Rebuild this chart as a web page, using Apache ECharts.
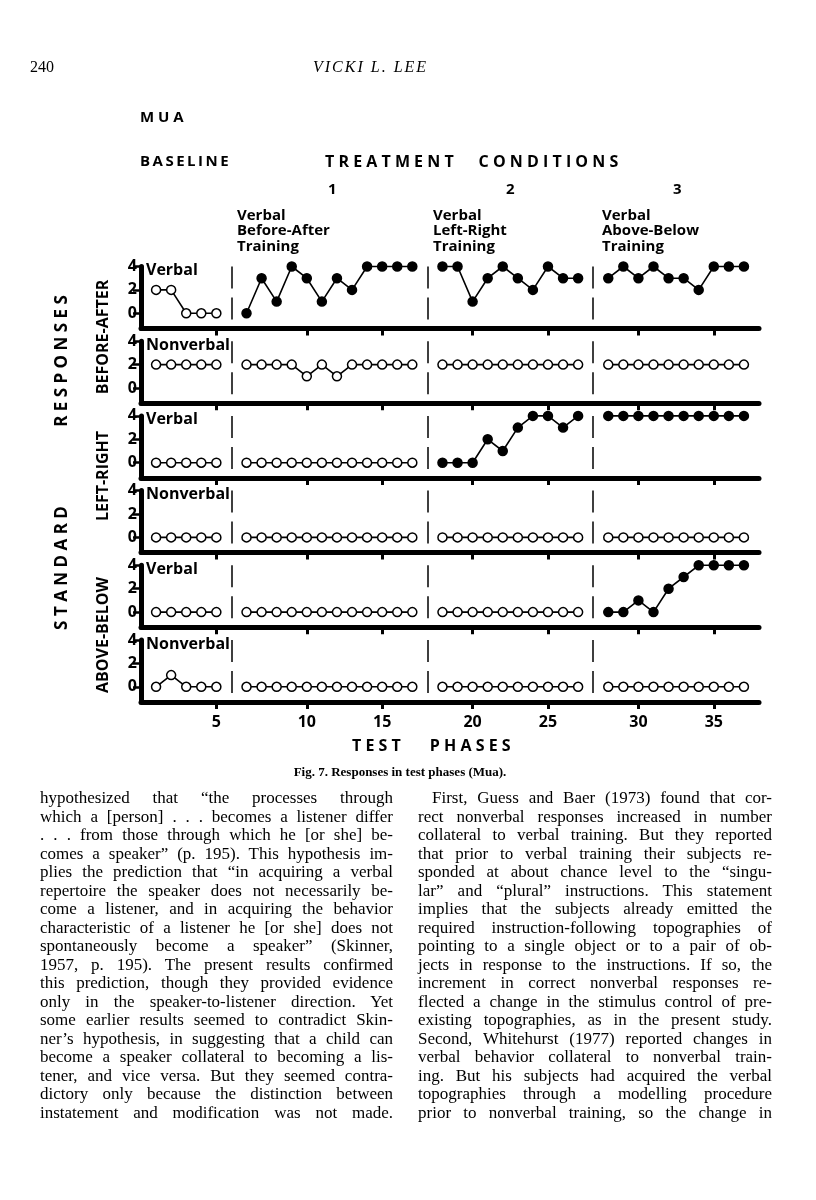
<!DOCTYPE html>
<html>
<head>
<meta charset="utf-8">
<script src="https://cdn.jsdelivr.net/npm/echarts@6/dist/echarts.min.js"></script>
<style>
  body { margin: 0; background: #fff; }
  #page { position: relative; width: 816px; height: 1200px; overflow: hidden; }
  #chart { position: absolute; left: 0; top: 0; width: 816px; height: 790px; }
  .hdr { position: absolute; top: 58px; font-family: "Liberation Serif", serif; font-size: 16px; color: #000; }
  .cap { position: absolute; top: 764px; left: 0; width: 800px; text-align: center;
         font-family: "Liberation Serif", serif; font-size: 13px; font-weight: bold; }
  .col { position: absolute; top: 789px; width: 353px; font-family: "Liberation Serif", serif;
         font-size: 17px; line-height: 18.5px; color: #000; }
  .col div { text-align: justify; text-align-last: justify; white-space: nowrap; }
</style>
</head>
<body>
<div id="page">
  <div id="chart"></div>
  <div class="hdr" style="left:30px">240</div>
  <div class="hdr" style="left:313px;font-style:italic;letter-spacing:2px">VICKI L. LEE</div>
  <div class="cap">Fig. 7. Responses in test phases (Mua).</div>
  <div class="col" style="left:40px">
    <div>hypothesized that “the processes through</div>
    <div>which a [person] . . . becomes a listener differ</div>
    <div>. . . from those through which he [or she] be-</div>
    <div>comes a speaker” (p. 195). This hypothesis im-</div>
    <div>plies the prediction that “in acquiring a verbal</div>
    <div>repertoire the speaker does not necessarily be-</div>
    <div>come a listener, and in acquiring the behavior</div>
    <div>characteristic of a listener he [or she] does not</div>
    <div>spontaneously become a speaker” (Skinner,</div>
    <div>1957, p. 195). The present results confirmed</div>
    <div>this prediction, though they provided evidence</div>
    <div>only in the speaker-to-listener direction. Yet</div>
    <div>some earlier results seemed to contradict Skin-</div>
    <div>ner’s hypothesis, in suggesting that a child can</div>
    <div>become a speaker collateral to becoming a lis-</div>
    <div>tener, and vice versa. But they seemed contra-</div>
    <div>dictory only because the distinction between</div>
    <div>instatement and modification was not made.</div>
  </div>
  <div class="col" style="left:418px;width:354px">
    <div style="padding-left:14px">First, Guess and Baer (1973) found that cor-</div>
    <div>rect nonverbal responses increased in number</div>
    <div>collateral to verbal training. But they reported</div>
    <div>that prior to verbal training their subjects re-</div>
    <div>sponded at about chance level to the “singu-</div>
    <div>lar” and “plural” instructions. This statement</div>
    <div>implies that the subjects already emitted the</div>
    <div>required instruction-following topographies of</div>
    <div>pointing to a single object or to a pair of ob-</div>
    <div>jects in response to the instructions. If so, the</div>
    <div>increment in correct nonverbal responses re-</div>
    <div>flected a change in the stimulus control of pre-</div>
    <div>existing topographies, as in the present study.</div>
    <div>Second, Whitehurst (1977) reported changes in</div>
    <div>verbal behavior collateral to nonverbal train-</div>
    <div>ing. But his subjects had acquired the verbal</div>
    <div>topographies through a modelling procedure</div>
    <div>prior to nonverbal training, so the change in</div>
  </div>
</div>
<script>
// sessions where each phase starts: baseline, treatment 1, 2, 3
const phaseStarts = [1, 6, 18, 28];
const tickSessions = [5, 10, 15, 20, 25, 30, 35];
const yTicks = [0, 2, 4];

// values per phase (baseline, T1, T2, T3)
const verbalBA = [
  [2, 2, 0, 0, 0],
  [0, 3, 1, 4, 3, 1, 3, 2, 4, 4, 4, 4],
  [4, 4, 1, 3, 4, 3, 2, 4, 3, 3],
  [3, 4, 3, 4, 3, 3, 2, 4, 4, 4]
];
const nonverbalBA = [
  [2, 2, 2, 2, 2],
  [2, 2, 2, 2, 1, 2, 1, 2, 2, 2, 2, 2],
  [2, 2, 2, 2, 2, 2, 2, 2, 2, 2],
  [2, 2, 2, 2, 2, 2, 2, 2, 2, 2]
];
const verbalLR = [
  [0, 0, 0, 0, 0],
  [0, 0, 0, 0, 0, 0, 0, 0, 0, 0, 0, 0],
  [0, 0, 0, 2, 1, 3, 4, 4, 3, 4],
  [4, 4, 4, 4, 4, 4, 4, 4, 4, 4]
];
const nonverbalLR = [
  [0, 0, 0, 0, 0],
  [0, 0, 0, 0, 0, 0, 0, 0, 0, 0, 0, 0],
  [0, 0, 0, 0, 0, 0, 0, 0, 0, 0],
  [0, 0, 0, 0, 0, 0, 0, 0, 0, 0]
];
const verbalAB = [
  [0, 0, 0, 0, 0],
  [0, 0, 0, 0, 0, 0, 0, 0, 0, 0, 0, 0],
  [0, 0, 0, 0, 0, 0, 0, 0, 0, 0],
  [0, 0, 1, 0, 2, 3, 4, 4, 4, 4]
];
const nonverbalAB = [
  [0, 1, 0, 0, 0],
  [0, 0, 0, 0, 0, 0, 0, 0, 0, 0, 0, 0],
  [0, 0, 0, 0, 0, 0, 0, 0, 0, 0],
  [0, 0, 0, 0, 0, 0, 0, 0, 0, 0]
];

const panelNames = ['Verbal', 'Nonverbal', 'Verbal', 'Nonverbal', 'Verbal', 'Nonverbal'];
const panelData = [verbalBA, nonverbalBA, verbalLR, nonverbalLR, verbalAB, nonverbalAB];
// filled circles = after training on that dimension
const panelFilled = [
  [false, true, true, true],
  [false, false, false, false],
  [false, false, true, true],
  [false, false, false, false],
  [false, false, false, true],
  [false, false, false, false]
];

// each phase change line takes one slot on the x axis
function phaseOf(session) {
  let k = 0;
  phaseStarts.forEach(function (s, i) { if (session >= s) k = i; });
  return k;
}
function slotOf(session) { return session + phaseOf(session); }

const tickSlots = tickSessions.map(slotOf);
const phaseLineSlots = phaseStarts.slice(1).map(function (s, k) { return s + k; });

const chart = echarts.init(document.getElementById('chart'), null, { renderer: 'canvas' });

const FONT = '"Open Sans", "DejaVu Sans", sans-serif';
const top0 = 266.5, pitch = 74.7, panelH = 62;
const yMin = -1.3;

let grids = [], xAxes = [], yAxes = [], series = [], graphics = [];

panelData.forEach(function (phases, i) {
  const top = top0 + i * pitch;
  grids.push({ left: 141, width: 618, top: top, height: panelH });
  xAxes.push({
    type: 'value', gridIndex: i, min: 0, max: 41,
    axisLine: { onZero: false, lineStyle: { color: '#000', width: 5 } },
    axisTick: { customValues: tickSlots, length: 7, lineStyle: { color: '#000', width: 3 } },
    axisLabel: {
      show: i === panelData.length - 1,
      customValues: tickSlots,
      formatter: function (v) { return tickSessions[tickSlots.indexOf(v)]; },
      color: '#000', fontSize: 16, fontWeight: 'bold', fontFamily: FONT, margin: 12
    },
    splitLine: { show: false }
  });
  yAxes.push({
    type: 'value', gridIndex: i, min: yMin, max: 4,
    axisLine: { show: true, onZero: false, lineStyle: { color: '#000', width: 5 } },
    axisTick: { customValues: yTicks, length: 8, lineStyle: { color: '#000', width: 2.5 } },
    axisLabel: {
      customValues: yTicks, color: '#000', fontSize: 16, fontWeight: 'bold',
      fontFamily: FONT, margin: 4
    },
    splitLine: { show: false }
  });

  phases.forEach(function (vals, k) {
    const filled = panelFilled[i][k];
    const s = {
      type: 'line', xAxisIndex: i, yAxisIndex: i, clip: false, silent: true,
      symbol: 'circle', symbolSize: 9,
      itemStyle: { color: filled ? '#000' : '#fff', borderColor: '#000', borderWidth: 1.5 },
      lineStyle: { color: '#000', width: 1.6 },
      data: vals.map(function (v, j) { return [slotOf(phaseStarts[k] + j), v]; })
    };
    if (k === 0) {
      s.markLine = {
        symbol: 'none', silent: true, label: { show: false },
        lineStyle: { color: '#000', width: 1.5, type: [22, 9] },
        data: phaseLineSlots.map(function (x) {
          return [{ coord: [x, 4] }, { coord: [x, yMin] }];
        })
      };
    }
    series.push(s);
  });

  graphics.push({
    type: 'text', x: 146, y: top + 4,
    style: { text: panelNames[i], fontSize: 16, fontWeight: 'bold', fontFamily: FONT,
             fill: '#000', align: 'left', verticalAlign: 'middle' }
  });
});

function label(text, x, y, size) {
  return {
    type: 'text', x: x, y: y,
    style: { text: text, fontSize: size, fontWeight: 'bold', fontFamily: FONT,
             fill: '#000', align: 'left', verticalAlign: 'middle', lineHeight: 15.5 }
  };
}

graphics.push(label('M U A', 140, 118, 15));
graphics.push(label('B\u2009A\u2009S\u2009E\u2009L\u2009I\u2009N\u2009E', 140, 162, 15));
graphics.push(label('T R E A T M E N T      C O N D I T I O N S', 325, 162, 16));
graphics.push(label('1', 328, 190, 15));
graphics.push(label('2', 506, 190, 15));
graphics.push(label('3', 673, 190, 15));
graphics.push(label('Verbal\nBefore-After\nTraining', 237, 231, 15));
graphics.push(label('Verbal\nLeft-Right\nTraining', 433, 231, 15));
graphics.push(label('Verbal\nAbove-Below\nTraining', 602, 231, 15));
graphics.push(label('T E S T       P H A S E S', 352, 746, 16));

function vlabel(text, x, y, size) {
  return {
    type: 'text', x: x, y: y, rotation: Math.PI / 2,
    style: { text: text, fontSize: size, fontWeight: 'bold', fontFamily: FONT,
             fill: '#000', align: 'center', verticalAlign: 'middle' }
  };
}
graphics.push(vlabel('S T A N D A R D', 62, 568, 17));
graphics.push(vlabel('R E S P O N S E S', 62, 361, 17));
graphics.push(vlabel('BEFORE-AFTER', 103, 337, 16));
graphics.push(vlabel('LEFT-RIGHT', 103, 476, 16));
graphics.push(vlabel('ABOVE-BELOW', 103, 635, 16));

chart.setOption({
  animation: false,
  backgroundColor: '#fff',
  grid: grids,
  xAxis: xAxes,
  yAxis: yAxes,
  series: series,
  graphic: graphics
});
</script>
</body>
</html>
